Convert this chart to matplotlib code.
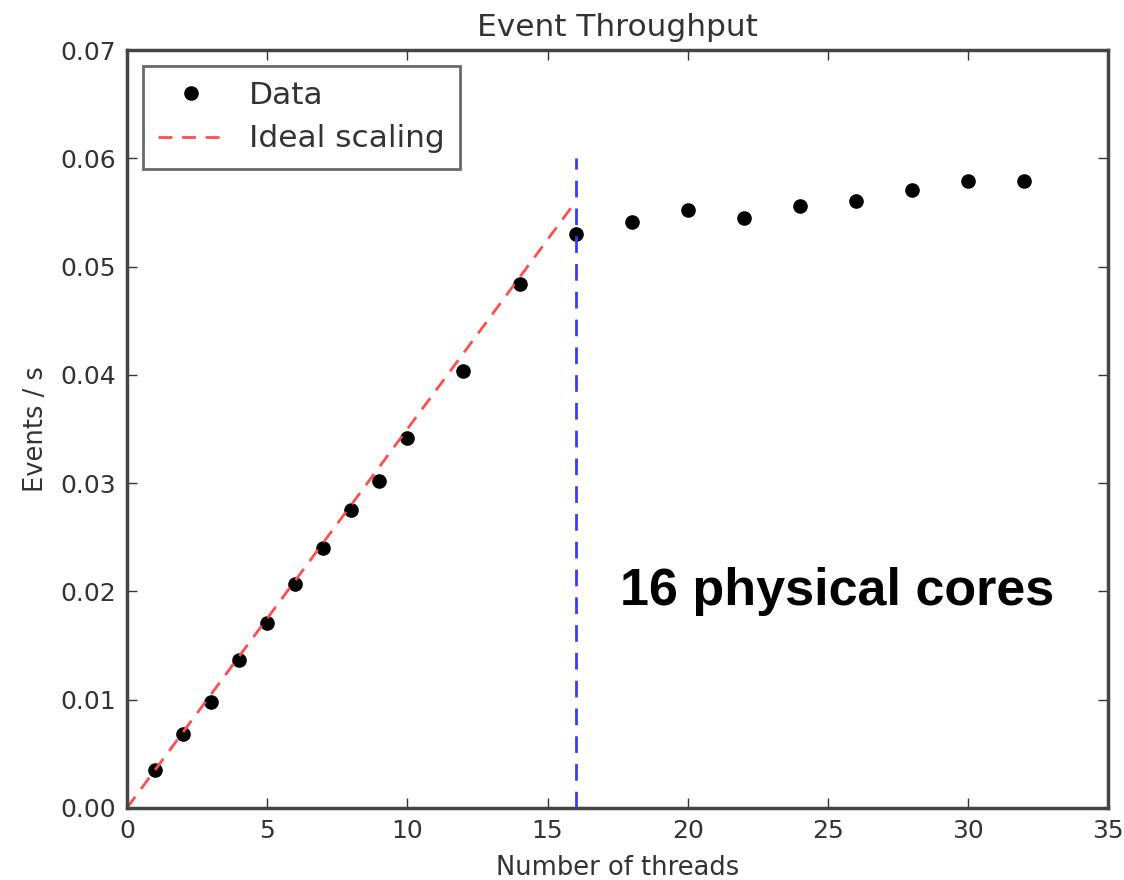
import matplotlib.pyplot as plt
import numpy as np

threads = [1, 2, 3, 4, 5, 6, 7, 8, 9, 10, 12, 14, 16, 18, 20, 22, 24, 26, 28, 30, 32]
throughput = [0.0035, 0.0068, 0.0098, 0.0137, 0.0171, 0.0207, 0.0240, 0.0275, 0.0302,
              0.0342, 0.0404, 0.0484, 0.0530, 0.0541, 0.0552, 0.0545, 0.0556, 0.0561,
              0.0571, 0.0579, 0.0579]
physical_cores = 16

plt.rcParams['font.family'] = 'DejaVu Sans'
fig = plt.figure(figsize=(11.24, 8.8), dpi=100)
ax = fig.add_axes([0.113, 0.082, 0.873, 0.861])

# ideal scaling: single-thread rate times number of threads
ideal_x = np.array([0, physical_cores])
ax.plot(threads, throughput, 'o', color='black', markersize=9.5, label='Data')
ax.plot(ideal_x, throughput[0] * ideal_x, '--', color='#ff4d4d', lw=2,
        dashes=(5, 3.5), label='Ideal scaling')
ax.vlines(physical_cores, 0, 0.06, colors='#3a3aff', linestyles=(0, (6, 4)), lw=2)

ax.set_xlim(0, 35)
ax.set_ylim(0, 0.07)
ax.set_xticks(np.arange(0, 36, 5))
ax.set_yticks(np.arange(0, 0.071, 0.01))
ax.yaxis.set_major_formatter(plt.FormatStrFormatter('%.2f'))
ax.tick_params(direction='in', top=True, right=True, length=7, width=1,
               labelsize=18, colors='#333333', pad=8)
for s in ax.spines.values():
    s.set_linewidth(2.5)
    s.set_color('#444444')

ax.set_title('Event Throughput', fontsize=22.5, color='#333333', pad=10)
ax.set_xlabel('Number of threads', fontsize=18.5, color='#333333', labelpad=9)
ax.set_ylabel('Events / s', fontsize=18.5, color='#333333', labelpad=8)

ax.text(17.6, 0.0200, '16 physical cores', fontsize=37.5, fontweight='bold',
        family='Liberation Sans', va='center', ha='left', color='black')

leg = ax.legend(loc='upper left', fontsize=22.5, numpoints=1, fancybox=False,
                borderaxespad=0.5, handlelength=2.1, handletextpad=0.8,
                labelspacing=0.45, borderpad=0.5)
leg.get_frame().set_edgecolor('#444444')
leg.get_frame().set_linewidth(2)
for t in leg.get_texts():
    t.set_color('#333333')

fig.savefig('out.png', dpi=100)
